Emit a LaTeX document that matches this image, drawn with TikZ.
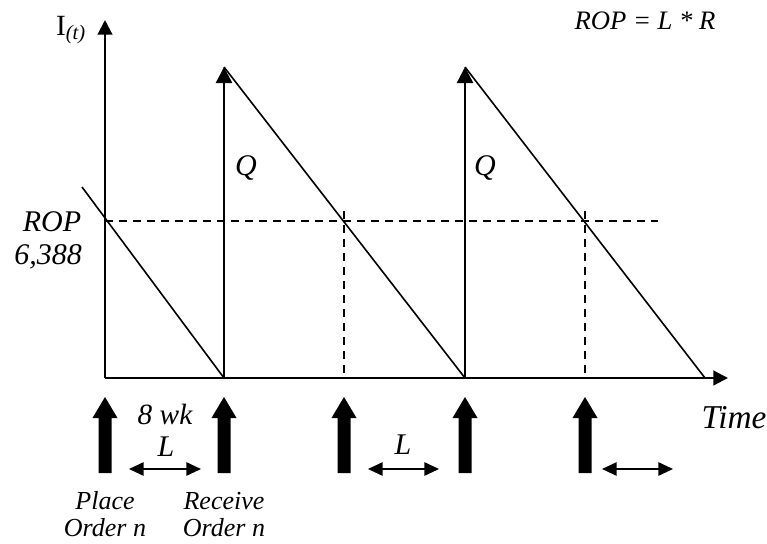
\documentclass[tikz,border=0pt]{standalone}
\usepackage{fontspec}
\setmainfont{Liberation Serif}
\usetikzlibrary{arrows.meta,positioning}

\begin{document}
\begin{tikzpicture}[x=0.75pt,y=-0.75pt]
      \tikzstyle{axis} = [line width=1.6pt, -{Triangle[length=11pt,width=11pt]}]
      \tikzstyle{refill} = [line width=1.8pt, -{Triangle[length=12pt,width=12pt]}]
      \tikzstyle{usage} = [line width=1.2pt]
      \tikzstyle{level} = [line width=1.2pt, dash pattern=on 6pt off 4.5pt]
      \tikzstyle{lead} = [line width=1.3pt, {Triangle[length=11pt,width=10pt]}-{Triangle[length=11pt,width=10pt]}]
      \tikzstyle{lbl} = [font=\itshape\fontsize{22.5}{24}\selectfont, inner sep=0pt]
      \tikzstyle{small} = [font=\itshape\fontsize{19.5}{21}\selectfont, inner sep=0pt]

      \useasboundingbox (0,0) rectangle (767,543);

      \coordinate (O) at (105,378);
      \coordinate (ytop) at (105,20);
      \coordinate (xend) at (728,378);
      \coordinate (start) at (82,187);
      \coordinate (r1) at (224,378);
      \coordinate (pk1) at (224,67);
      \coordinate (r2) at (465,378);
      \coordinate (pk2) at (465,67);
      \coordinate (empty) at (705,378);
      \coordinate (rop0) at (105,221);
      \coordinate (rop1) at (658,221);
      \coordinate (c1) at (344,211);
      \coordinate (d1) at (344,378);
      \coordinate (c2) at (585,211);
      \coordinate (d2) at (585,378);

      \draw[axis] (O) -- (ytop);
      \draw[axis] (O) -- (xend);

      \draw[usage] (start) -- (r1);
      \draw[refill] (r1) -- (pk1);
      \draw[usage] (pk1) -- (r2);
      \draw[refill] (r2) -- (pk2);
      \draw[usage] (pk2) -- (empty);

      \draw[level] (rop0) -- (rop1);
      \draw[level] (c1) -- (d1);
      \draw[level] (c2) -- (d2);

      \node (ilab) at (71,30) {\fontsize{22}{24}\selectfont I\textsubscript{\itshape(t)}};
      \node[lbl, font=\itshape\fontsize{20}{22}\selectfont] (formula) at (645,21) {ROP = L * R};
      \node[lbl] (q1) at (246,168) {Q};
      \node[lbl] (q2) at (485,168) {Q};
      \node[lbl] (rop) at (52,222) {ROP};
      \node[lbl] (ropval) at (48,257) {6,388};
      \node[lbl, font=\itshape\fontsize{25}{27}\selectfont] (time) at (734,418) {Time};

      % order placed / received markers
      \foreach \xa in {105,224,344,465,585}
        \fill[shift={(\xa,0)}] (-6.5,473) -- (-6.5,418) -- (-12.5,418) -- (0,397)
          -- (12.5,418) -- (6.5,418) -- (6.5,473) -- cycle;

      \node[lbl, font=\itshape\fontsize{22}{24}\selectfont] (wk) at (165,414) {8 wk};
      \node[lbl] (l1) at (166,447) {L};
      \node[lbl] (l2) at (403,445) {L};

      \coordinate (la1) at (129,469);
      \coordinate (lb1) at (201,469);
      \coordinate (la2) at (368,469);
      \coordinate (lb2) at (439,469);
      \coordinate (la3) at (602,469);
      \coordinate (lb3) at (673,469);
      \draw[lead] (la1) -- (lb1);
      \draw[lead] (la2) -- (lb2);
      \draw[lead] (la3) -- (lb3);

      \node[small] (place) at (105,501) {Place};
      \node[small] (ordp) at (105,528) {Order n};
      \node[small] (recv) at (224,501) {Receive};
      \node[small] (ordr) at (224,528) {Order n};
\end{tikzpicture}
\end{document}
